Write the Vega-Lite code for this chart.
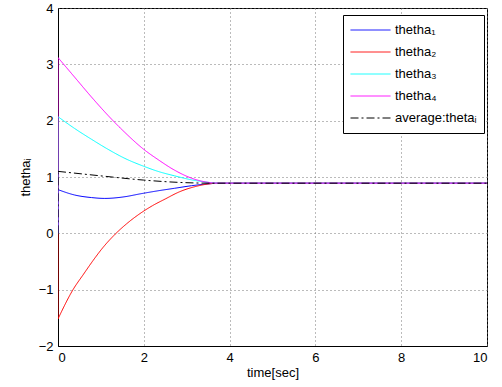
{
  "$schema": "https://vega.github.io/schema/vega-lite/v6.json",
  "width": 429,
  "height": 338,
  "autosize": {"type": "none"},
  "padding": {"left": 58, "top": 8, "right": 15, "bottom": 41},
  "background": "white",
  "config": {
    "font": "Liberation Sans",
    "view": {"stroke": "black", "strokeWidth": 1},
    "axis": {
      "labelFont": "Liberation Sans",
      "labelFontSize": 13,
      "labelColor": "black",
      "titleFont": "Liberation Sans",
      "titleFontSize": 13,
      "titleFontWeight": "normal",
      "titleColor": "black",
      "domainColor": "black",
      "ticks": false,
      "grid": true,
      "gridColor": "#777777",
      "gridDash": [1, 3],
      "gridOpacity": 1,
      "labelPadding": 5
    },
    "legend": {
      "orient": "none",
      "legendX": 285,
      "legendY": 7,
      "strokeColor": "black",
      "fillColor": "white",
      "padding": 7,
      "symbolType": "stroke",
      "symbolSize": 1600,
      "symbolStrokeWidth": 1,
      "labelFont": "Liberation Sans",
      "labelFontSize": 13,
      "labelColor": "black",
      "clipHeight": 16,
      "rowPadding": 6,
      "labelOffset": 4,
      "cornerRadius": 0
    }
  },
  "data": {
    "values": [
      {"t": 0, "v": 0, "s": "thetha₁", "seg": "jump"},
      {"t": 0, "v": 0.776, "s": "thetha₁", "seg": "jump"},
      {"t": 0, "v": 0.776, "s": "thetha₁", "seg": "curve"},
      {"t": 0.39, "v": 0.68, "s": "thetha₁", "seg": "curve"},
      {"t": 0.78, "v": 0.635, "s": "thetha₁", "seg": "curve"},
      {"t": 1.09, "v": 0.62, "s": "thetha₁", "seg": "curve"},
      {"t": 1.56, "v": 0.65, "s": "thetha₁", "seg": "curve"},
      {"t": 1.91, "v": 0.70, "s": "thetha₁", "seg": "curve"},
      {"t": 2.33, "v": 0.755, "s": "thetha₁", "seg": "curve"},
      {"t": 2.72, "v": 0.80, "s": "thetha₁", "seg": "curve"},
      {"t": 3.11, "v": 0.845, "s": "thetha₁", "seg": "curve"},
      {"t": 3.5, "v": 0.878, "s": "thetha₁", "seg": "curve"},
      {"t": 3.75, "v": 0.89, "s": "thetha₁", "seg": "curve"},
      {"t": 10, "v": 0.89, "s": "thetha₁", "seg": "curve"},

      {"t": 0, "v": 0, "s": "thetha₂", "seg": "jump"},
      {"t": 0, "v": -1.52, "s": "thetha₂", "seg": "jump"},
      {"t": 0, "v": -1.52, "s": "thetha₂", "seg": "curve"},
      {"t": 0.35, "v": -1.0, "s": "thetha₂", "seg": "curve"},
      {"t": 0.6, "v": -0.72, "s": "thetha₂", "seg": "curve"},
      {"t": 0.82, "v": -0.48, "s": "thetha₂", "seg": "curve"},
      {"t": 1.05, "v": -0.25, "s": "thetha₂", "seg": "curve"},
      {"t": 1.3, "v": -0.04, "s": "thetha₂", "seg": "curve"},
      {"t": 1.6, "v": 0.17, "s": "thetha₂", "seg": "curve"},
      {"t": 1.91, "v": 0.35, "s": "thetha₂", "seg": "curve"},
      {"t": 2.2, "v": 0.49, "s": "thetha₂", "seg": "curve"},
      {"t": 2.5, "v": 0.61, "s": "thetha₂", "seg": "curve"},
      {"t": 2.84, "v": 0.74, "s": "thetha₂", "seg": "curve"},
      {"t": 3.2, "v": 0.83, "s": "thetha₂", "seg": "curve"},
      {"t": 3.45, "v": 0.87, "s": "thetha₂", "seg": "curve"},
      {"t": 3.75, "v": 0.89, "s": "thetha₂", "seg": "curve"},
      {"t": 10, "v": 0.89, "s": "thetha₂", "seg": "curve"},

      {"t": 0, "v": 0, "s": "thetha₃", "seg": "jump"},
      {"t": 0, "v": 2.07, "s": "thetha₃", "seg": "jump"},
      {"t": 0, "v": 2.07, "s": "thetha₃", "seg": "curve"},
      {"t": 0.39, "v": 1.86, "s": "thetha₃", "seg": "curve"},
      {"t": 0.78, "v": 1.67, "s": "thetha₃", "seg": "curve"},
      {"t": 1.17, "v": 1.49, "s": "thetha₃", "seg": "curve"},
      {"t": 1.56, "v": 1.33, "s": "thetha₃", "seg": "curve"},
      {"t": 2.0, "v": 1.19, "s": "thetha₃", "seg": "curve"},
      {"t": 2.33, "v": 1.10, "s": "thetha₃", "seg": "curve"},
      {"t": 2.72, "v": 1.02, "s": "thetha₃", "seg": "curve"},
      {"t": 3.11, "v": 0.95, "s": "thetha₃", "seg": "curve"},
      {"t": 3.5, "v": 0.905, "s": "thetha₃", "seg": "curve"},
      {"t": 3.75, "v": 0.89, "s": "thetha₃", "seg": "curve"},
      {"t": 10, "v": 0.89, "s": "thetha₃", "seg": "curve"},

      {"t": 0, "v": 0, "s": "thetha₄", "seg": "jump"},
      {"t": 0, "v": 3.12, "s": "thetha₄", "seg": "jump"},
      {"t": 0, "v": 3.12, "s": "thetha₄", "seg": "curve"},
      {"t": 0.39, "v": 2.77, "s": "thetha₄", "seg": "curve"},
      {"t": 0.78, "v": 2.42, "s": "thetha₄", "seg": "curve"},
      {"t": 1.17, "v": 2.09, "s": "thetha₄", "seg": "curve"},
      {"t": 1.56, "v": 1.79, "s": "thetha₄", "seg": "curve"},
      {"t": 2.0, "v": 1.49, "s": "thetha₄", "seg": "curve"},
      {"t": 2.33, "v": 1.31, "s": "thetha₄", "seg": "curve"},
      {"t": 2.72, "v": 1.12, "s": "thetha₄", "seg": "curve"},
      {"t": 3.11, "v": 0.98, "s": "thetha₄", "seg": "curve"},
      {"t": 3.5, "v": 0.905, "s": "thetha₄", "seg": "curve"},
      {"t": 3.75, "v": 0.89, "s": "thetha₄", "seg": "curve"},
      {"t": 10, "v": 0.89, "s": "thetha₄", "seg": "curve"},

      {"t": 0, "v": 0, "s": "average:thetaᵢ", "seg": "jump"},
      {"t": 0, "v": 1.10, "s": "average:thetaᵢ", "seg": "jump"},
      {"t": 0, "v": 1.10, "s": "average:thetaᵢ", "seg": "curve"},
      {"t": 1.0, "v": 1.02, "s": "average:thetaᵢ", "seg": "curve"},
      {"t": 2.0, "v": 0.945, "s": "average:thetaᵢ", "seg": "curve"},
      {"t": 2.8, "v": 0.905, "s": "average:thetaᵢ", "seg": "curve"},
      {"t": 3.6, "v": 0.89, "s": "average:thetaᵢ", "seg": "curve"},
      {"t": 10, "v": 0.89, "s": "average:thetaᵢ", "seg": "curve"}
    ]
  },
  "mark": {"type": "line", "strokeWidth": 1, "clip": true, "interpolate": "monotone"},
  "encoding": {
    "x": {
      "field": "t", "type": "quantitative",
      "scale": {"domain": [0, 10], "nice": false},
      "axis": {"values": [0, 2, 4, 6, 8, 10], "title": "time[sec]", "titlePadding": 2}
    },
    "y": {
      "field": "v", "type": "quantitative",
      "scale": {"domain": [-2, 4], "nice": false, "zero": false},
      "axis": {"values": [-2, -1, 0, 1, 2, 3, 4], "title": "thethaᵢ", "titlePadding": 6,
               "labelExpr": "replace(datum.label, '-', '−')"}
    },
    "color": {
      "field": "s", "type": "nominal",
      "scale": {
        "domain": ["thetha₁", "thetha₂", "thetha₃", "thetha₄", "average:thetaᵢ"],
        "range": ["#0000ff", "#ff0000", "#00ffff", "#ff00ff", "#000000"]
      },
      "legend": {"title": null}
    },
    "strokeDash": {
      "field": "s", "type": "nominal",
      "scale": {
        "domain": ["thetha₁", "thetha₂", "thetha₃", "thetha₄", "average:thetaᵢ"],
        "range": [[1, 0], [1, 0], [1, 0], [1, 0], [8, 3, 2, 3]]
      },
      "legend": {"title": null}
    },
    "detail": {"field": "seg", "type": "nominal"}
  }
}
